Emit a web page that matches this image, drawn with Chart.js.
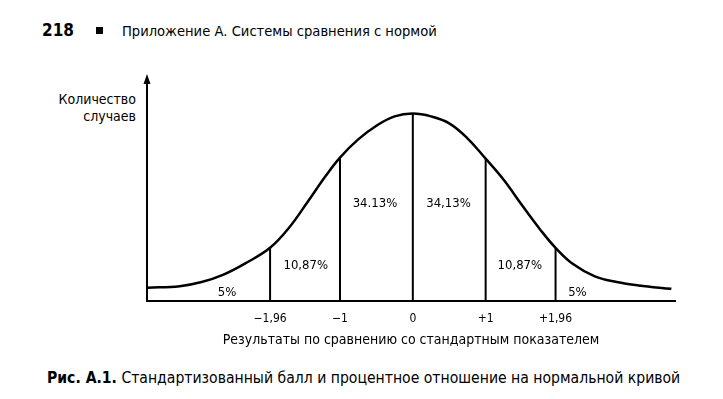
<!DOCTYPE html>
<html>
<head>
<meta charset="utf-8">
<script src="https://cdn.jsdelivr.net/npm/chart.js@4"></script>
<style>
  body { margin: 0; width: 723px; height: 399px; background: #fff; position: relative; overflow: hidden;
         font-family: 'DejaVu Sans Condensed', 'Liberation Sans Narrow', 'DejaVu Sans', sans-serif; color: #000; }
  #header { position: absolute; left: 42px; top: 20px; font-size: 14.6px; white-space: nowrap; }
  #header b { font-size: 17px; margin-right: 22px; }
  #header .sq { display: inline-block; width: 7px; height: 7px; background: #000; margin-right: 19px; vertical-align: 2px; }
  #ylabel { position: absolute; right: 587px; top: 91px; font-size: 14px; text-align: right; line-height: 17px; }
  #caption { position: absolute; left: 47px; top: 369px; font-size: 15.6px; white-space: nowrap; }
  #wrap { position: absolute; left: 0; top: 55px; width: 723px; height: 294px; }
</style>
</head>
<body>
<div id="header"><b>218</b><span class="sq"></span>Приложение А. Системы сравнения с нормой</div>
<div id="ylabel">Количество<br>случаев</div>
<div id="wrap"><canvas id="myChart"></canvas></div>
<div id="caption"><b>Рис. А.1.</b> Стандартизованный балл и процентное отношение на нормальной кривой</div>

<script>
// кривая (z, относительная высота)
const curveZ = [-3.64, -3.2, -2.9, -2.6, -2.3, -1.96, -1.7, -1.45, -1.2, -1, -0.75, -0.5, -0.25, 0,
                0.25, 0.5, 0.75, 1, 1.25, 1.5, 1.75, 1.96, 2.2, 2.5, 2.8, 3.1, 3.55];
const curveH = [0.07, 0.078, 0.10, 0.14, 0.20, 0.283, 0.39, 0.525, 0.665, 0.765, 0.862, 0.935, 0.985, 1.0,
                0.985, 0.948, 0.868, 0.759, 0.645, 0.51, 0.38, 0.283, 0.196, 0.13, 0.10, 0.082, 0.064];

// вертикальные линии
const cutZ = [-1.96, -1, 0, 1, 1.96];
const cutH = [0.283, 0.765, 1.0, 0.759, 0.283];

const tickValues = [-1.96, -1, 0, 1, 1.96];
const tickLabels = ['\u22121,96', '\u22121', '0', '+1', '+1,96'];

// подписи процентов
const pctLabels = ['5%', '10,87%', '34.13%', '34,13%', '10,87%', '5%'];
const pctZ = [-2.55, -1.47, -0.52, 0.49, 1.47, 2.26];
const pctH = [0.043, 0.187, 0.52, 0.52, 0.187, 0.043];

const FONT = "'DejaVu Sans Condensed', 'Liberation Sans Narrow', 'DejaVu Sans', sans-serif";

const datasets = [{
  data: curveZ.map((z, i) => ({ x: z, y: curveH[i] })),
  borderColor: '#000',
  borderWidth: 2.5,
  pointRadius: 0,
  tension: 0.4,
  fill: false
}];
cutZ.forEach((z, i) => {
  datasets.push({
    data: [{ x: z, y: 0 }, { x: z, y: cutH[i] }],
    borderColor: '#000',
    borderWidth: 2,
    pointRadius: 0,
    fill: false
  });
});

const extras = {
  id: 'extras',
  afterDatasetsDraw(chart) {
    const ctx = chart.ctx;
    const xs = chart.scales.x, ys = chart.scales.y;
    ctx.save();
    ctx.fillStyle = '#000';
    ctx.font = '13px ' + FONT;
    ctx.textAlign = 'center';
    ctx.textBaseline = 'middle';
    pctLabels.forEach((t, i) => {
      ctx.fillText(t, xs.getPixelForValue(pctZ[i]), ys.getPixelForValue(pctH[i]));
    });
    // стрелка оси Y
    const ax = chart.chartArea.left, top = chart.chartArea.top;
    ctx.beginPath();
    ctx.moveTo(ax, top - 4);
    ctx.lineTo(ax - 3.5, top + 6);
    ctx.lineTo(ax + 3.5, top + 6);
    ctx.closePath();
    ctx.fill();
    ctx.restore();
  }
};

const ctx = document.getElementById('myChart').getContext('2d');
const chart = new Chart(ctx, {
  type: 'line',
  data: { datasets: datasets },
  plugins: [extras],
  options: {
    responsive: true,
    maintainAspectRatio: false,
    animation: false,
    layout: { padding: { left: 139, right: 48, top: 23, bottom: 0 } },
    plugins: { legend: { display: false }, tooltip: { enabled: false } },
    scales: {
      x: {
        type: 'linear',
        min: -3.65,
        max: 3.6,
        afterBuildTicks: (axis) => { axis.ticks = tickValues.map(v => ({ value: v })); },
        grid: { display: false },
        border: { display: true, color: '#000', width: 2 },
        ticks: {
          autoSkip: false,
          maxRotation: 0,
          padding: 3,
          color: '#000',
          font: { size: 12, family: FONT },
          callback: (v) => tickLabels[tickValues.indexOf(v)]
        },
        title: {
          display: true,
          text: 'Результаты по сравнению со стандартным показателем',
          color: '#000',
          font: { size: 14, family: FONT },
          padding: { top: 3, bottom: 0 }
        }
      },
      y: {
        min: 0,
        max: 1.19,
        grid: { display: false },
        border: { display: true, color: '#000', width: 2 },
        ticks: { display: false }
      }
    }
  }
});
</script>
</body>
</html>
